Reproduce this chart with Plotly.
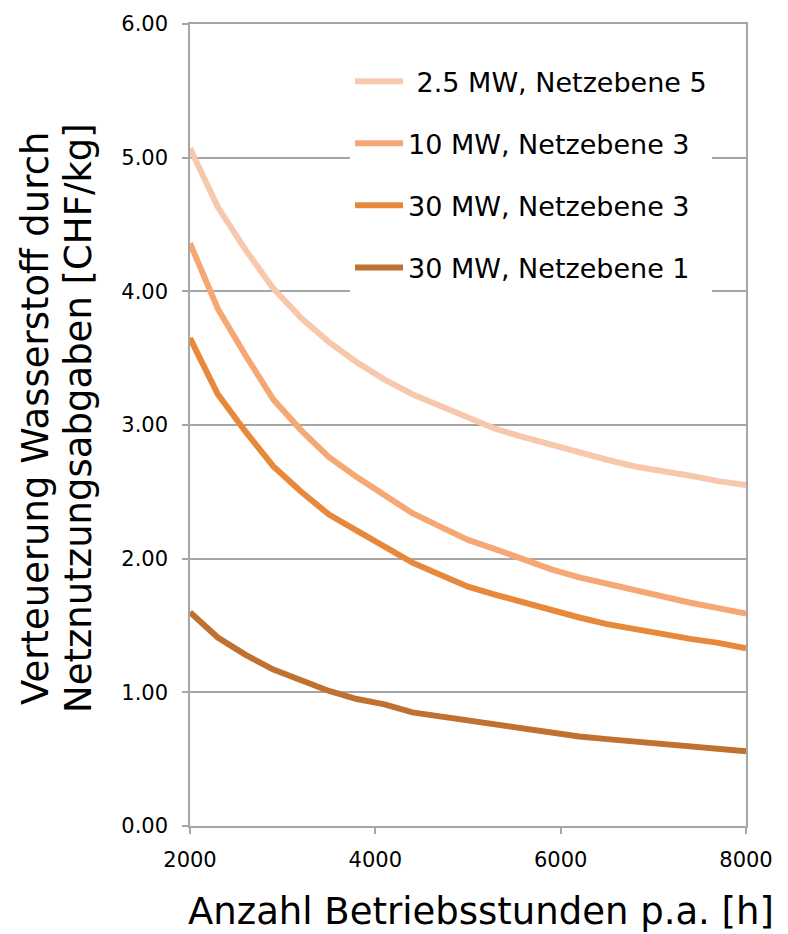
import plotly.graph_objects as go

hours = [2000, 2300, 2600, 2900, 3200, 3500, 3800, 4100, 4400, 4700, 5000,
         5300, 5600, 5900, 6200, 6500, 6800, 7100, 7400, 7700, 8000]

mw25_ne5 = [5.07, 4.63, 4.31, 4.02, 3.80, 3.62, 3.47, 3.34, 3.23, 3.14, 3.05,
            2.97, 2.91, 2.85, 2.79, 2.74, 2.69, 2.66, 2.62, 2.58, 2.55]
mw10_ne3 = [4.36, 3.87, 3.52, 3.19, 2.96, 2.76, 2.61, 2.48, 2.34, 2.24, 2.14,
            2.07, 1.99, 1.92, 1.86, 1.81, 1.77, 1.72, 1.67, 1.63, 1.59]
mw30_ne3 = [3.65, 3.23, 2.95, 2.69, 2.50, 2.33, 2.21, 2.09, 1.97, 1.88, 1.79,
            1.73, 1.67, 1.61, 1.56, 1.51, 1.47, 1.44, 1.40, 1.37, 1.33]
mw30_ne1 = [1.60, 1.41, 1.28, 1.17, 1.09, 1.01, 0.95, 0.91, 0.85, 0.82, 0.78,
            0.75, 0.72, 0.69, 0.67, 0.65, 0.63, 0.61, 0.59, 0.58, 0.56]

series_names = ["\u00a02.5 MW, Netzebene 5", "10 MW, Netzebene 3",
                "30 MW, Netzebene 3", "30 MW, Netzebene 1"]
series_values = [mw25_ne5, mw10_ne3, mw30_ne3, mw30_ne1]
series_colors = ["#F7C8AC", "#F5A874", "#E8883A", "#C0712F"]

x_ticks = [2000, 4000, 6000, 8000]
y_ticks = [0, 1, 2, 3, 4, 5, 6]

y_title_lines = ["Verteuerung Wasserstoff durch", "Netznutzungsabgaben [CHF/kg]"]
x_title = "Anzahl Betriebsstunden p.a. [h]"

FONT = "DejaVu Sans"
GRID = "#A6A6A6"

fig = go.Figure()
for i, (name, vals, col) in enumerate(zip(series_names, series_values, series_colors)):
    fig.add_trace(go.Scatter(
        x=hours, y=vals, mode="lines", name=name,
        line=dict(color=col, width=6),
        legendgroup=f"g{i}",
    ))

fig.update_layout(
    width=788, height=934,
    margin=dict(l=190, r=42, t=18, b=108),
    paper_bgcolor="white", plot_bgcolor="white",
    font=dict(family=FONT, color="#000000", size=21),
    showlegend=True,
    legend=dict(
        x=0.2878, y=0.9587, xanchor="left", yanchor="top",
        bgcolor="white", borderwidth=0,
        font=dict(family=FONT, size=27, color="#000000"),
        traceorder="grouped", tracegroupgap=24,
        itemwidth=48,
    ),
    xaxis=dict(
        range=[2000, 8000], tickvals=x_ticks, ticktext=[str(v) for v in x_ticks],
        showgrid=False, zeroline=False,
        showline=True, linecolor=GRID, linewidth=1.5, mirror=True,
        ticks="outside", ticklen=6, tickcolor=GRID, tickwidth=1.5,
        tickfont=dict(family=FONT, size=21, color="#000000"),
        ticklabelstandoff=8,
    ),
    yaxis=dict(
        range=[0, 6], tickvals=y_ticks, tickformat=".2f",
        showgrid=True, gridcolor=GRID, gridwidth=1.5, zeroline=False,
        showline=True, linecolor=GRID, linewidth=1.5, mirror=True,
        ticks="outside", ticklen=6, tickcolor=GRID, tickwidth=1.5,
        tickfont=dict(family=FONT, size=21, color="#000000"),
        ticklabelstandoff=10,
    ),
)

fig.add_annotation(text=y_title_lines[0], xref="paper", yref="paper",
                   x=-0.2788, y=0.5087, xanchor="center", yanchor="middle",
                   textangle=-90, showarrow=False,
                   font=dict(family=FONT, size=37, color="#000000"))
fig.add_annotation(text=y_title_lines[1], xref="paper", yref="paper",
                   x=-0.2014, y=0.5087, xanchor="center", yanchor="middle",
                   textangle=-90, showarrow=False,
                   font=dict(family=FONT, size=37, color="#000000"))
fig.add_annotation(text=x_title, xref="paper", yref="paper",
                   x=0.524, y=-0.106, xanchor="center", yanchor="middle",
                   showarrow=False,
                   font=dict(family=FONT, size=37, color="#000000"))

fig.write_html("out.html")
